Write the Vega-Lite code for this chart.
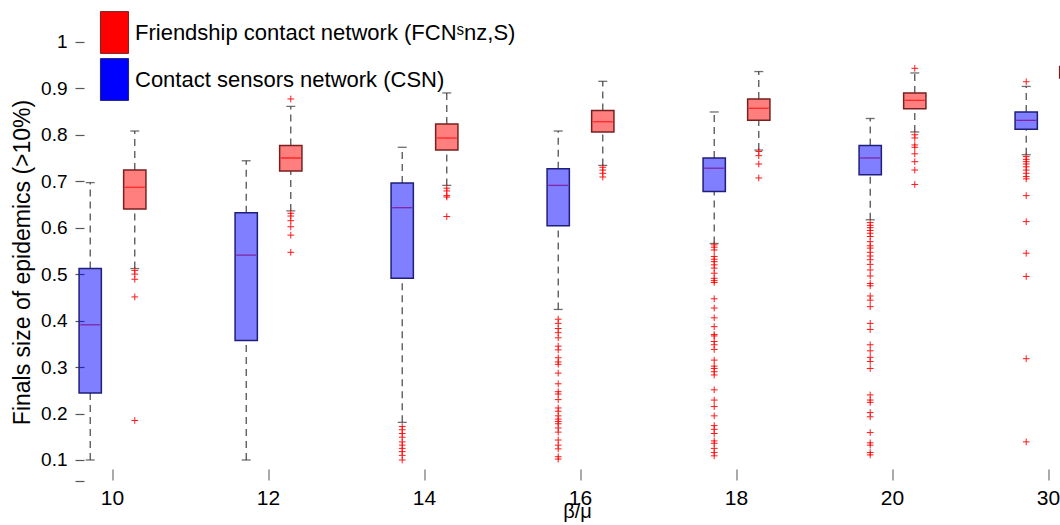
{
  "$schema": "https://vega.github.io/schema/vega-lite/v6.json",
  "width": 1025.5,
  "height": 481,
  "autosize": {"type": "none"},
  "padding": {"left": 34.5, "top": 0, "right": 0, "bottom": 44},
  "background": "white",
  "config": {"view": {"stroke": null}, "font": "Liberation Sans"},
  "datasets": {
    "boxes": [
      {"b": "10", "n": "CSN", "lo": 0.100, "q1": 0.244, "med": 0.391, "q3": 0.512, "hi": 0.697},
      {"b": "10", "n": "FCN", "lo": 0.512, "q1": 0.640, "med": 0.687, "q3": 0.724, "hi": 0.808},
      {"b": "12", "n": "CSN", "lo": 0.100, "q1": 0.357, "med": 0.541, "q3": 0.632, "hi": 0.744},
      {"b": "12", "n": "FCN", "lo": 0.636, "q1": 0.722, "med": 0.750, "q3": 0.777, "hi": 0.861},
      {"b": "14", "n": "CSN", "lo": 0.181, "q1": 0.491, "med": 0.643, "q3": 0.696, "hi": 0.773},
      {"b": "14", "n": "FCN", "lo": 0.691, "q1": 0.767, "med": 0.793, "q3": 0.823, "hi": 0.890},
      {"b": "16", "n": "CSN", "lo": 0.424, "q1": 0.604, "med": 0.691, "q3": 0.727, "hi": 0.808},
      {"b": "16", "n": "FCN", "lo": 0.734, "q1": 0.806, "med": 0.828, "q3": 0.852, "hi": 0.915},
      {"b": "18", "n": "CSN", "lo": 0.566, "q1": 0.678, "med": 0.728, "q3": 0.750, "hi": 0.849},
      {"b": "18", "n": "FCN", "lo": 0.767, "q1": 0.831, "med": 0.857, "q3": 0.877, "hi": 0.936},
      {"b": "20", "n": "CSN", "lo": 0.617, "q1": 0.714, "med": 0.750, "q3": 0.777, "hi": 0.835},
      {"b": "20", "n": "FCN", "lo": 0.806, "q1": 0.856, "med": 0.874, "q3": 0.890, "hi": 0.933},
      {"b": "30", "n": "CSN", "lo": 0.757, "q1": 0.812, "med": 0.831, "q3": 0.849, "hi": 0.904},
      {"b": "30", "n": "FCN", "lo": 0.879, "q1": 0.922, "med": 0.934, "q3": 0.947, "hi": 0.983}
    ],
    "outliers": [
      {"b": "10", "n": "FCN", "v": 0.508}, {"b": "10", "n": "FCN", "v": 0.500}, {"b": "10", "n": "FCN", "v": 0.489}, {"b": "10", "n": "FCN", "v": 0.451}, {"b": "10", "n": "FCN", "v": 0.185},
      {"b": "12", "n": "FCN", "v": 0.877}, {"b": "12", "n": "FCN", "v": 0.631}, {"b": "12", "n": "FCN", "v": 0.625}, {"b": "12", "n": "FCN", "v": 0.615}, {"b": "12", "n": "FCN", "v": 0.602}, {"b": "12", "n": "FCN", "v": 0.584}, {"b": "12", "n": "FCN", "v": 0.547},
      {"b": "14", "n": "CSN", "v": 0.172}, {"b": "14", "n": "CSN", "v": 0.165}, {"b": "14", "n": "CSN", "v": 0.157}, {"b": "14", "n": "CSN", "v": 0.149}, {"b": "14", "n": "CSN", "v": 0.139}, {"b": "14", "n": "CSN", "v": 0.132}, {"b": "14", "n": "CSN", "v": 0.125}, {"b": "14", "n": "CSN", "v": 0.118}, {"b": "14", "n": "CSN", "v": 0.110}, {"b": "14", "n": "CSN", "v": 0.100},
      {"b": "14", "n": "FCN", "v": 0.685}, {"b": "14", "n": "FCN", "v": 0.679}, {"b": "14", "n": "FCN", "v": 0.669}, {"b": "14", "n": "FCN", "v": 0.666}, {"b": "14", "n": "FCN", "v": 0.624},
      {"b": "16", "n": "CSN", "v": 0.403}, {"b": "16", "n": "CSN", "v": 0.394}, {"b": "16", "n": "CSN", "v": 0.383}, {"b": "16", "n": "CSN", "v": 0.374}, {"b": "16", "n": "CSN", "v": 0.363}, {"b": "16", "n": "CSN", "v": 0.345}, {"b": "16", "n": "CSN", "v": 0.337}, {"b": "16", "n": "CSN", "v": 0.320}, {"b": "16", "n": "CSN", "v": 0.311}, {"b": "16", "n": "CSN", "v": 0.306}, {"b": "16", "n": "CSN", "v": 0.287}, {"b": "16", "n": "CSN", "v": 0.264}, {"b": "16", "n": "CSN", "v": 0.247}, {"b": "16", "n": "CSN", "v": 0.242}, {"b": "16", "n": "CSN", "v": 0.230}, {"b": "16", "n": "CSN", "v": 0.212}, {"b": "16", "n": "CSN", "v": 0.205}, {"b": "16", "n": "CSN", "v": 0.195}, {"b": "16", "n": "CSN", "v": 0.188}, {"b": "16", "n": "CSN", "v": 0.183}, {"b": "16", "n": "CSN", "v": 0.178}, {"b": "16", "n": "CSN", "v": 0.169}, {"b": "16", "n": "CSN", "v": 0.160}, {"b": "16", "n": "CSN", "v": 0.143}, {"b": "16", "n": "CSN", "v": 0.132}, {"b": "16", "n": "CSN", "v": 0.124}, {"b": "16", "n": "CSN", "v": 0.107}, {"b": "16", "n": "CSN", "v": 0.102},
      {"b": "16", "n": "FCN", "v": 0.730}, {"b": "16", "n": "FCN", "v": 0.724}, {"b": "16", "n": "FCN", "v": 0.717}, {"b": "16", "n": "FCN", "v": 0.709},
      {"b": "18", "n": "CSN", "v": 0.563}, {"b": "18", "n": "CSN", "v": 0.558}, {"b": "18", "n": "CSN", "v": 0.552}, {"b": "18", "n": "CSN", "v": 0.538}, {"b": "18", "n": "CSN", "v": 0.532}, {"b": "18", "n": "CSN", "v": 0.527}, {"b": "18", "n": "CSN", "v": 0.520}, {"b": "18", "n": "CSN", "v": 0.513}, {"b": "18", "n": "CSN", "v": 0.502}, {"b": "18", "n": "CSN", "v": 0.491}, {"b": "18", "n": "CSN", "v": 0.486}, {"b": "18", "n": "CSN", "v": 0.482}, {"b": "18", "n": "CSN", "v": 0.447}, {"b": "18", "n": "CSN", "v": 0.427}, {"b": "18", "n": "CSN", "v": 0.406}, {"b": "18", "n": "CSN", "v": 0.387}, {"b": "18", "n": "CSN", "v": 0.370}, {"b": "18", "n": "CSN", "v": 0.367}, {"b": "18", "n": "CSN", "v": 0.355}, {"b": "18", "n": "CSN", "v": 0.348}, {"b": "18", "n": "CSN", "v": 0.338}, {"b": "18", "n": "CSN", "v": 0.315}, {"b": "18", "n": "CSN", "v": 0.302}, {"b": "18", "n": "CSN", "v": 0.297}, {"b": "18", "n": "CSN", "v": 0.290}, {"b": "18", "n": "CSN", "v": 0.283}, {"b": "18", "n": "CSN", "v": 0.251}, {"b": "18", "n": "CSN", "v": 0.229}, {"b": "18", "n": "CSN", "v": 0.215}, {"b": "18", "n": "CSN", "v": 0.195}, {"b": "18", "n": "CSN", "v": 0.174}, {"b": "18", "n": "CSN", "v": 0.166}, {"b": "18", "n": "CSN", "v": 0.157}, {"b": "18", "n": "CSN", "v": 0.141}, {"b": "18", "n": "CSN", "v": 0.136}, {"b": "18", "n": "CSN", "v": 0.125}, {"b": "18", "n": "CSN", "v": 0.116}, {"b": "18", "n": "CSN", "v": 0.109},
      {"b": "18", "n": "FCN", "v": 0.764}, {"b": "18", "n": "FCN", "v": 0.755}, {"b": "18", "n": "FCN", "v": 0.737}, {"b": "18", "n": "FCN", "v": 0.707},
      {"b": "20", "n": "CSN", "v": 0.611}, {"b": "20", "n": "CSN", "v": 0.605}, {"b": "20", "n": "CSN", "v": 0.600}, {"b": "20", "n": "CSN", "v": 0.594}, {"b": "20", "n": "CSN", "v": 0.588}, {"b": "20", "n": "CSN", "v": 0.581}, {"b": "20", "n": "CSN", "v": 0.570}, {"b": "20", "n": "CSN", "v": 0.561}, {"b": "20", "n": "CSN", "v": 0.556}, {"b": "20", "n": "CSN", "v": 0.547}, {"b": "20", "n": "CSN", "v": 0.539}, {"b": "20", "n": "CSN", "v": 0.531}, {"b": "20", "n": "CSN", "v": 0.521}, {"b": "20", "n": "CSN", "v": 0.509}, {"b": "20", "n": "CSN", "v": 0.496}, {"b": "20", "n": "CSN", "v": 0.480}, {"b": "20", "n": "CSN", "v": 0.475}, {"b": "20", "n": "CSN", "v": 0.453}, {"b": "20", "n": "CSN", "v": 0.444}, {"b": "20", "n": "CSN", "v": 0.430}, {"b": "20", "n": "CSN", "v": 0.394}, {"b": "20", "n": "CSN", "v": 0.381}, {"b": "20", "n": "CSN", "v": 0.348}, {"b": "20", "n": "CSN", "v": 0.335}, {"b": "20", "n": "CSN", "v": 0.321}, {"b": "20", "n": "CSN", "v": 0.312}, {"b": "20", "n": "CSN", "v": 0.297}, {"b": "20", "n": "CSN", "v": 0.240}, {"b": "20", "n": "CSN", "v": 0.229}, {"b": "20", "n": "CSN", "v": 0.224}, {"b": "20", "n": "CSN", "v": 0.202}, {"b": "20", "n": "CSN", "v": 0.193}, {"b": "20", "n": "CSN", "v": 0.159}, {"b": "20", "n": "CSN", "v": 0.137}, {"b": "20", "n": "CSN", "v": 0.132}, {"b": "20", "n": "CSN", "v": 0.116}, {"b": "20", "n": "CSN", "v": 0.111},
      {"b": "20", "n": "FCN", "v": 0.943}, {"b": "20", "n": "FCN", "v": 0.800}, {"b": "20", "n": "FCN", "v": 0.793}, {"b": "20", "n": "FCN", "v": 0.778}, {"b": "20", "n": "FCN", "v": 0.773}, {"b": "20", "n": "FCN", "v": 0.759}, {"b": "20", "n": "FCN", "v": 0.742}, {"b": "20", "n": "FCN", "v": 0.724}, {"b": "20", "n": "FCN", "v": 0.693},
      {"b": "30", "n": "CSN", "v": 0.914}, {"b": "30", "n": "CSN", "v": 0.753}, {"b": "30", "n": "CSN", "v": 0.747}, {"b": "30", "n": "CSN", "v": 0.742}, {"b": "30", "n": "CSN", "v": 0.737}, {"b": "30", "n": "CSN", "v": 0.731}, {"b": "30", "n": "CSN", "v": 0.724}, {"b": "30", "n": "CSN", "v": 0.717}, {"b": "30", "n": "CSN", "v": 0.710}, {"b": "30", "n": "CSN", "v": 0.705}, {"b": "30", "n": "CSN", "v": 0.669}, {"b": "30", "n": "CSN", "v": 0.613}, {"b": "30", "n": "CSN", "v": 0.545}, {"b": "30", "n": "CSN", "v": 0.495}, {"b": "30", "n": "CSN", "v": 0.318}, {"b": "30", "n": "CSN", "v": 0.139}
    ]
  },
  "encoding": {
    "x": {
      "field": "b",
      "type": "nominal",
      "scale": {"range": [0, 1092], "paddingInner": 0, "paddingOuter": 0},
      "axis": {
        "orient": "bottom",
        "offset": -12,
        "domain": false,
        "labelAngle": 0,
        "tickSize": 11,
        "tickColor": "#555555",
        "tickWidth": 1,
        "labelPadding": 7,
        "labelFontSize": 21,
        "labelColor": "#000000",
        "labelDx": 3,
        "title": "β/μ",
        "titleFontSize": 20,
        "titleFontWeight": "normal",
        "titleColor": "#000000",
        "titleX": 542.5,
        "titleY": 42,
        "titleAlign": "center",
        "titleBaseline": "middle"
      }
    },
    "xOffset": {
      "field": "n",
      "type": "nominal",
      "scale": {"domain": ["CSN", "FCN"], "paddingInner": 0.5, "paddingOuter": 1.1}
    }
  },
  "layer": [
    {
      "data": {"name": "boxes"},
      "mark": {"type": "rule", "color": "#444444", "strokeDash": [7, 5], "strokeWidth": 1.2},
      "encoding": {
        "y": {
          "field": "q3",
          "type": "quantitative",
          "scale": {"domain": [0.0548, 1.09], "nice": false, "zero": false},
          "axis": {
            "offset": -49.5,
            "domain": false,
            "grid": false,
            "values": [0.0548, 0.1, 0.2, 0.3, 0.4, 0.5, 0.6, 0.7, 0.8, 0.9, 1],
            "labelExpr": "datum.value < 0.09 ? '' : format(datum.value, '.1~f')",
            "tickSize": 9,
            "tickColor": "#555555",
            "tickWidth": 1.2,
            "labelPadding": 8,
            "labelFontSize": 19,
            "labelColor": "#000000",
            "title": "Finals size of epidemics (>10%)",
            "titleFontSize": 23,
            "titleFontWeight": "normal",
            "titleColor": "#000000",
            "titleAngle": -90,
            "titleX": -62,
            "titleY": 262,
            "titleAlign": "center",
            "titleBaseline": "middle"
          }
        },
        "y2": {"field": "hi"}
      }
    },
    {
      "data": {"name": "boxes"},
      "mark": {"type": "rule", "color": "#444444", "strokeDash": [7, 5], "strokeWidth": 1.2},
      "encoding": {
        "y": {"field": "lo", "type": "quantitative"},
        "y2": {"field": "q1"}
      }
    },
    {
      "data": {"name": "boxes"},
      "mark": {"type": "tick", "color": "#333333", "size": 9, "thickness": 1.3},
      "encoding": {"y": {"field": "hi", "type": "quantitative"}}
    },
    {
      "data": {"name": "boxes"},
      "mark": {"type": "tick", "color": "#333333", "size": 9, "thickness": 1.3},
      "encoding": {"y": {"field": "lo", "type": "quantitative"}}
    },
    {
      "data": {"name": "boxes"},
      "mark": {"type": "tick", "color": "#ff0000", "size": 20, "thickness": 1.3},
      "encoding": {"y": {"field": "med", "type": "quantitative"}}
    },
    {
      "data": {"name": "boxes"},
      "mark": {"type": "bar", "fillOpacity": 0.5, "strokeWidth": 1.5},
      "encoding": {
        "y": {"field": "q1", "type": "quantitative"},
        "y2": {"field": "q3"},
        "color": {
          "field": "n",
          "type": "nominal",
          "scale": {"domain": ["FCN", "CSN"], "range": ["#ff0000", "#0000ff"]},
          "legend": {
            "orient": "none",
            "legendX": 60.5,
            "legendY": 13,
            "direction": "vertical",
            "title": null,
            "padding": 0,
            "rowPadding": 0,
            "symbolType": "M-0.74,-1.1H0.74V1.1H-0.74Z",
            "symbolSize": 1444,
            "symbolStrokeColor": "#777777",
            "symbolStrokeWidth": 1,
            "symbolOpacity": 1,
            "labelOffset": 1,
            "labelFontSize": 22,
            "labelColor": "#000000",
            "labelLimit": 600,
            "labelExpr": "datum.value == 'FCN' ? 'Friendship contact network (FCNˢnz,S)' : 'Contact sensors network (CSN)'",
            "encode": {"symbols": {"update": {"fillOpacity": {"value": 1}, "opacity": {"value": 1}}}}
          }
        },
        "stroke": {
          "field": "n",
          "type": "nominal",
          "scale": {"domain": ["FCN", "CSN"], "range": ["#7a1f1f", "#1f1f7a"]},
          "legend": null
        }
      }
    },
    {
      "data": {"name": "outliers"},
      "mark": {"type": "point", "shape": "M-1,0H1M0,-1V1", "filled": false, "color": "#ff0000", "strokeWidth": 1, "size": 45, "opacity": 0.9},
      "encoding": {"y": {"field": "v", "type": "quantitative"}}
    }
  ]
}
